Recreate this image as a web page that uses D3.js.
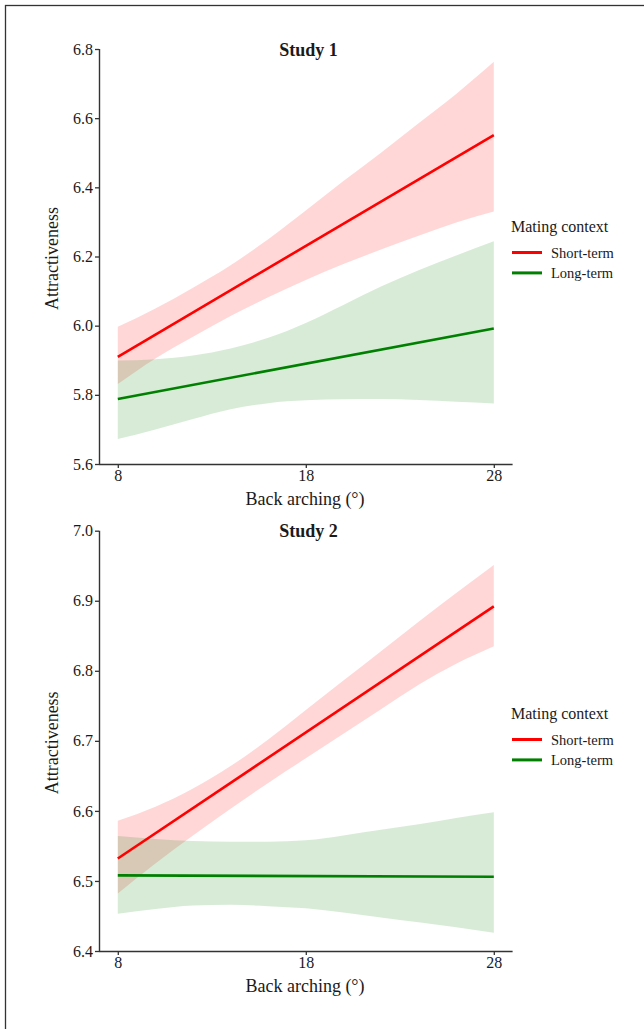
<!DOCTYPE html>
<html>
<head>
<meta charset="utf-8">
<script src="https://cdn.jsdelivr.net/npm/d3@7"></script>
<style>
  html, body { margin: 0; padding: 0; background: #fff; }
  svg { display: block; }
  text { font-family: "Liberation Serif", "Times New Roman", serif; fill: #1a1a1a; }
</style>
</head>
<body>
<svg id="chart" width="644" height="1029"></svg>
<script>
// ---- Data ----
const backArching = [8, 10, 12, 14, 16, 18, 20, 22, 24, 26, 28];
const xTicks = [8, 18, 28];
const contexts = ["Short-term", "Long-term"];
const legendTitle = "Mating context";

// Study 1
const s1ShortFit = [5.910, 6.551];            // fitted line at 8 and 28
const s1ShortLower = [5.831, 5.905, 5.968, 6.028, 6.082, 6.132, 6.178, 6.220, 6.260, 6.298, 6.330];
const s1ShortUpper = [5.997, 6.050, 6.110, 6.175, 6.250, 6.333, 6.418, 6.500, 6.585, 6.670, 6.763];
const s1LongFit = [5.788, 5.992];
const s1LongLower = [5.672, 5.700, 5.730, 5.758, 5.776, 5.784, 5.787, 5.788, 5.785, 5.780, 5.775];
const s1LongUpper = [5.899, 5.903, 5.914, 5.934, 5.965, 6.008, 6.060, 6.113, 6.160, 6.203, 6.244];
const s1YTicks = [5.6, 5.8, 6.0, 6.2, 6.4, 6.6, 6.8];

// Study 2
const s2ShortFit = [6.532, 6.892];
const s2ShortLower = [6.482, 6.525, 6.565, 6.603, 6.640, 6.675, 6.710, 6.745, 6.780, 6.810, 6.835];
const s2ShortUpper = [6.586, 6.606, 6.632, 6.664, 6.702, 6.744, 6.786, 6.828, 6.870, 6.911, 6.951];
const s2LongFit = [6.508, 6.506];
const s2LongLower = [6.453, 6.460, 6.465, 6.466, 6.464, 6.461, 6.455, 6.448, 6.441, 6.434, 6.426];
const s2LongUpper = [6.564, 6.560, 6.557, 6.556, 6.556, 6.558, 6.565, 6.573, 6.581, 6.590, 6.598];
const s2YTicks = [6.4, 6.5, 6.6, 6.7, 6.8, 6.9, 7.0];

const fitX = [8, 28];

// ---- Styles ----
const colors = { "Short-term": "#ff0000", "Long-term": "#008000" };
const axisColor = "#333333";

const svg = d3.select("#chart");

// outer frame (top and left edges visible)
svg.append("rect")
  .attr("x", 5.5).attr("y", 5.5).attr("width", 700).attr("height", 1100)
  .attr("fill", "none").attr("stroke", "#333").attr("stroke-width", 1.3);

function panel(cfg) {
  const g = svg.append("g");
  const x = d3.scaleLinear().domain([7, 29]).range([99, 512.6]);
  const y = d3.scaleLinear().domain(cfg.yDomain).range([cfg.bottom, cfg.top]);

  const series = [
    { name: "Short-term", fit: cfg.shortFit, lo: cfg.shortLo, hi: cfg.shortHi },
    { name: "Long-term", fit: cfg.longFit, lo: cfg.longLo, hi: cfg.longHi }
  ];

  const area = d3.area()
    .x((d, i) => x(backArching[i]))
    .y0(d => y(d[0]))
    .y1(d => y(d[1]))
    .curve(d3.curveMonotoneX);

  series.forEach(s => {
    const pts = s.lo.map((v, i) => [v, s.hi[i]]);
    g.append("path")
      .attr("d", area(pts))
      .attr("fill", colors[s.name])
      .attr("fill-opacity", 0.155)
      .attr("stroke", "none");
  });

  const line = d3.line().x((d, i) => x(fitX[i])).y(d => y(d));
  series.forEach(s => {
    g.append("path")
      .attr("d", line(s.fit))
      .attr("fill", "none")
      .attr("stroke", colors[s.name])
      .attr("stroke-width", 2.6);
  });

  // axes
  const yAxis = d3.axisLeft(y).tickValues(cfg.yTicks).tickFormat(d3.format(".1f")).tickSize(4).tickPadding(2);
  const ga = g.append("g").attr("transform", `translate(${x(7)},0)`).call(yAxis);
  const xAxis = d3.axisBottom(x).tickValues(xTicks).tickSize(4).tickPadding(2);
  const gx = g.append("g").attr("transform", `translate(0,${cfg.bottom})`).call(xAxis);
  [ga, gx].forEach(a => {
    a.attr("font-size", null).attr("font-family", null);
    a.select(".domain").attr("stroke", axisColor).attr("stroke-width", 1.4);
    a.selectAll(".tick line").attr("stroke", axisColor).attr("stroke-width", 1.3);
    a.selectAll(".tick text")
      .attr("fill", "#1a1a1a")
      .style("font-family", '"Liberation Serif", serif')
      .style("font-size", "16px");
  });
  ga.select(".domain").attr("d", `M0.5,${cfg.top}V${cfg.bottom}`);
  gx.select(".domain").attr("d", `M${x(7)},0.5H${x(29)}`);

  // titles
  g.append("text")
    .attr("x", 308.5).attr("y", cfg.top + 6.5)
    .attr("text-anchor", "middle")
    .style("font-size", "18px").style("font-weight", "bold")
    .text(cfg.title);

  g.append("text")
    .attr("x", 305).attr("y", cfg.bottom + 41)
    .attr("text-anchor", "middle")
    .style("font-size", "18px")
    .text("Back arching (°)");

  g.append("text")
    .attr("transform", `translate(58,${(cfg.top + cfg.bottom) / 2 + 2}) rotate(-90)`)
    .attr("text-anchor", "middle")
    .style("font-size", "18px")
    .text("Attractiveness");

  // legend
  const lg = g.append("g").attr("transform", `translate(511,${cfg.legendY})`);
  lg.append("text").attr("x", 0).attr("y", 0).style("font-size", "16px").text(legendTitle);
  contexts.forEach((c, i) => {
    const yy = 20.5 + i * 20.4;
    lg.append("line")
      .attr("x1", 1).attr("x2", 31).attr("y1", yy).attr("y2", yy)
      .attr("stroke", colors[c]).attr("stroke-width", 3);
    lg.append("text")
      .attr("x", 40).attr("y", yy + 5)
      .style("font-size", "14.5px")
      .text(c);
  });
}

panel({
  title: "Study 1", top: 49, bottom: 464, yDomain: [5.6, 6.8], yTicks: s1YTicks,
  shortFit: s1ShortFit, shortLo: s1ShortLower, shortHi: s1ShortUpper,
  longFit: s1LongFit, longLo: s1LongLower, longHi: s1LongUpper,
  legendY: 232
});
panel({
  title: "Study 2", top: 530.7, bottom: 951, yDomain: [6.4, 7.0], yTicks: s2YTicks,
  shortFit: s2ShortFit, shortLo: s2ShortLower, shortHi: s2ShortUpper,
  longFit: s2LongFit, longLo: s2LongLower, longHi: s2LongUpper,
  legendY: 719
});
</script>
</body>
</html>
